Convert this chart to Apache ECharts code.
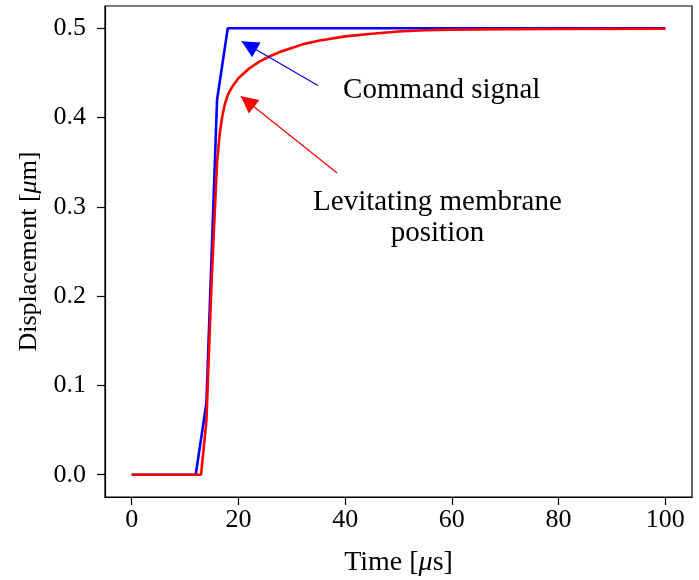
<!DOCTYPE html>
<html>
<head>
<meta charset="utf-8">
<script src="https://cdn.jsdelivr.net/npm/echarts@6/dist/echarts.min.js"></script>
<style>
html, body { margin: 0; background: #fff; }
#main { width: 699px; height: 580px; }
</style>
</head>
<body>
<div id="main"></div>
<script>
// command signal (blue) and membrane position (red), time in us, displacement in um
var cmdTime = [0, 12, 14, 16, 18, 100];
var cmdDisp = [0, 0, 0.08, 0.42, 0.5, 0.5];

var posTime = [0, 13, 14, 15, 16, 16.5, 17, 17.5, 18, 18.5, 19, 20, 22, 24, 26, 28, 30, 32, 35, 40, 45, 50, 55, 60, 70, 80, 100];
var posDisp = [0, 0, 0.06, 0.22, 0.35, 0.382, 0.402, 0.416, 0.425, 0.431, 0.436, 0.444, 0.455, 0.463, 0.469, 0.474, 0.478,
               0.482, 0.486, 0.491, 0.494, 0.4965, 0.4978, 0.4985, 0.499, 0.4993, 0.4995];

var xTicks = [0, 20, 40, 60, 80, 100];
var yTicks = [0, 0.1, 0.2, 0.3, 0.4, 0.5];

// annotations: [tail x, tail y, tip x, tip y] and text centre
var cmdArrow = [34.9, 0.436, 20.6, 0.4855];
var posArrow = [38.5, 0.338, 20.45, 0.424];
var cmdText = [58.1, 0.431, 'Command signal'];
var posText = [57.3, 0.2875, 'Levitating membrane\nposition'];

var serif = 'Liberation Serif';
// arrow head, tip at the centre of its box so it lands on the coord
var headPath = 'path://M0,-17L0,-17M0,0L8.5,17L-8.5,17Z';

function zip(xs, ys) {
    return xs.map(function (x, i) { return [x, ys[i]]; });
}

function arrow(a, color) {
    return {
        silent: true,
        animation: false,
        symbol: ['none', headPath],
        symbolSize: [17, 34],
        label: {show: false},
        lineStyle: {color: color, width: 1.2, type: 'solid'},
        emphasis: {disabled: true},
        data: [[
            {coord: [a[0], a[1]], symbol: 'none'},
            {coord: [a[2], a[3]], symbol: headPath, symbolSize: [17, 34]}
        ]]
    };
}

function note(t) {
    return {
        coord: [t[0], t[1]],
        name: t[2],
        symbol: 'circle',
        symbolSize: 1,
        itemStyle: {color: 'rgba(0,0,0,0)'},
        label: {
            show: true,
            position: 'inside',
            formatter: '{b}',
            color: '#000',
            fontFamily: serif,
            fontSize: 29,
            lineHeight: 31,
            align: 'center'
        }
    };
}

var axisLine = {show: true, onZero: false, lineStyle: {color: '#000', width: 1.2}};
var axisTick = {show: true, length: 8, lineStyle: {color: '#000', width: 1.2}};

var chart = echarts.init(document.getElementById('main'));
chart.setOption({
    animation: false,
    backgroundColor: '#fff',
    grid: {
        left: 105, right: 7, top: 6, bottom: 83,
        show: true, borderColor: '#000', borderWidth: 1.2,
        containLabel: false, outerBoundsMode: 'none'
    },
    xAxis: {
        type: 'value',
        min: -5,
        max: 105,
        axisLine: axisLine,
        axisTick: Object.assign({customValues: xTicks}, axisTick),
        axisLabel: {
            customValues: xTicks,
            color: '#000', fontFamily: serif, fontSize: 26, margin: 10
        },
        splitLine: {show: false},
        name: 'Time [{i|μ}s]',
        nameLocation: 'middle',
        nameGap: 52,
        nameTextStyle: {
            color: '#000', fontFamily: serif, fontSize: 28,
            rich: {i: {fontFamily: serif, fontSize: 28, fontStyle: 'italic', color: '#000'}}
        }
    },
    yAxis: {
        type: 'value',
        min: -0.025,
        max: 0.525,
        axisLine: axisLine,
        axisTick: Object.assign({customValues: yTicks}, axisTick),
        axisLabel: {
            customValues: yTicks,
            formatter: function (v) { return v.toFixed(1); },
            color: '#000', fontFamily: serif, fontSize: 26, margin: 19
        },
        splitLine: {show: false},
        name: 'Displacement [{i|μ}m]',
        nameLocation: 'middle',
        nameGap: 58,
        nameTextStyle: {
            color: '#000', fontFamily: serif, fontSize: 26,
            rich: {i: {fontFamily: serif, fontSize: 26, fontStyle: 'italic', color: '#000'}}
        }
    },
    series: [
        {
            name: 'Command signal',
            type: 'line',
            data: zip(cmdTime, cmdDisp),
            showSymbol: false,
            lineStyle: {color: '#0000ff', width: 2.6},
            itemStyle: {color: '#0000ff'},
            z: 2,
            markLine: arrow(cmdArrow, '#0000ff')
        },
        {
            name: 'Levitating membrane position',
            type: 'line',
            data: zip(posTime, posDisp),
            showSymbol: false,
            lineStyle: {color: '#ff0000', width: 2.6},
            itemStyle: {color: '#ff0000'},
            z: 3,
            markLine: arrow(posArrow, '#ff0000'),
            markPoint: {
                silent: true,
                animation: false,
                data: [note(cmdText), note(posText)]
            }
        }
    ]
});
</script>
</body>
</html>
